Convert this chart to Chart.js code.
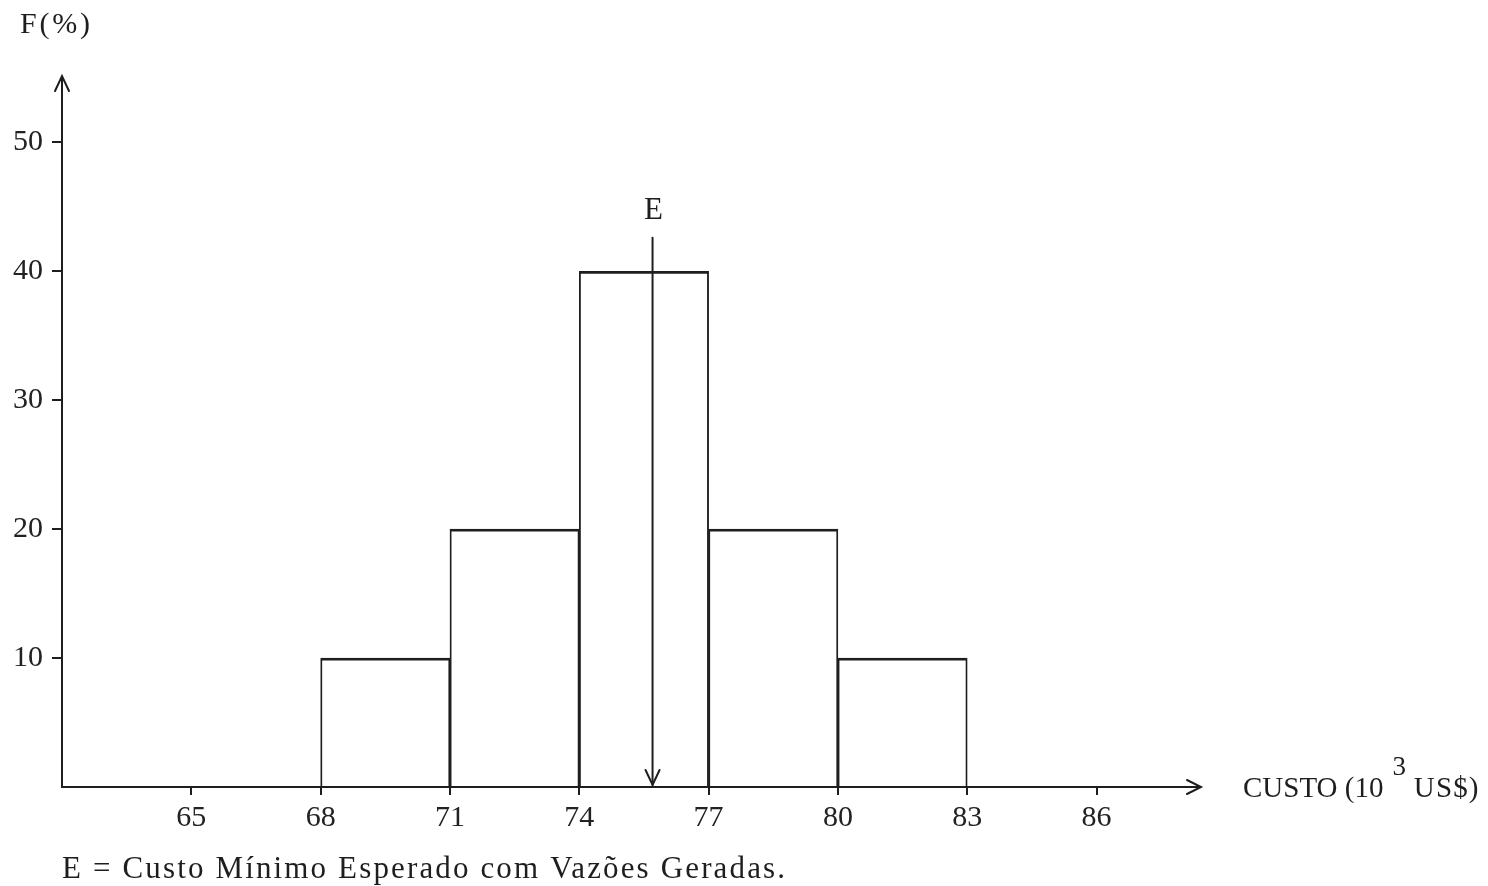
<!DOCTYPE html>
<html><head><meta charset="utf-8">
<script src="https://cdn.jsdelivr.net/npm/chart.js@4.4.0/dist/chart.umd.min.js"></script>
<style>html,body{margin:0;padding:0;background:#fff}#wrap{width:1488px;height:886px;position:relative}</style>
</head><body><div id="wrap"><canvas id="c"></canvas></div>
<script>
// ---- data ----
const binCenters = [69.5, 72.5, 75.5, 78.5, 81.5];   // classes 68-71, 71-74, 74-77, 77-80, 80-83
const frequencies = [10, 20, 40, 20, 10];             // F (%)
const xTickValues = [65, 68, 71, 74, 77, 80, 83, 86];
const yTickValues = [10, 20, 30, 40, 50];
const expectedCost = [75.7];       // E position on the cost axis
const expectedArrowTop = [42.6];   // top of E arrow, in F (%) units
const yTitle = 'F(%)';
const xTitleMain = 'CUSTO (10';
const xTitleSup = '3';
const xTitleEnd = ' US$)';
const captionText = 'E = Custo Mínimo Esperado com Vazões Geradas.';
const eLabel = 'E';

const INK = '#1e1e1e';
const SERIF = '"Liberation Serif", "DejaVu Serif", serif';

// draw text in serif font, optionally stretched with letter spacing to a target width
function serifText(ctx, text, x, y, size, targetWidth, align) {
  ctx.save();
  ctx.font = size + 'px ' + SERIF;
  ctx.fillStyle = INK;
  ctx.textBaseline = 'alphabetic';
  ctx.textAlign = 'left';
  const natural = ctx.measureText(text).width;
  let ls = 0;
  if (targetWidth && text.length > 1) ls = Math.max(0, (targetWidth - natural) / (text.length - 1));
  ctx.letterSpacing = ls + 'px';
  const w = natural + ls * (text.length - 1);
  let x0 = x;
  if (align === 'center') x0 = x - w / 2;
  if (align === 'right') x0 = x - w;
  ctx.fillText(text, x0, y);
  ctx.restore();
  return w;
}

const decor = {
  id: 'decor',
  afterDraw(chart) {
    const ctx = chart.ctx;
    const xs = chart.scales.x, ys = chart.scales.y;
    const a = chart.chartArea;
    ctx.save();
    ctx.strokeStyle = INK;
    ctx.lineWidth = 2;
    ctx.lineCap = 'round';
    // y axis arrowhead
    ctx.beginPath();
    ctx.moveTo(a.left - 7, a.top + 13);
    ctx.lineTo(a.left, a.top - 2);
    ctx.lineTo(a.left + 7, a.top + 13);
    ctx.stroke();
    // x axis arrowhead
    ctx.beginPath();
    ctx.moveTo(a.right - 13, a.bottom - 7);
    ctx.lineTo(a.right + 1, a.bottom);
    ctx.lineTo(a.right - 13, a.bottom + 7);
    ctx.stroke();
    // E arrow
    const ex = xs.getPixelForValue(expectedCost[0]);
    const eTop = ys.getPixelForValue(expectedArrowTop[0]);
    const eBot = ys.getPixelForValue(0);
    ctx.beginPath();
    ctx.moveTo(ex, eTop);
    ctx.lineTo(ex, eBot - 2);
    ctx.stroke();
    ctx.beginPath();
    ctx.moveTo(ex - 7, eBot - 17);
    ctx.lineTo(ex, eBot - 2);
    ctx.lineTo(ex + 7, eBot - 17);
    ctx.stroke();
    ctx.restore();
    // texts
    serifText(ctx, eLabel, ex + 1, 219, 31, 0, 'center');
    serifText(ctx, yTitle, 20, 33, 30, 70, 'left');
    let x = 1243;
    x += serifText(ctx, xTitleMain, x, 797, 29, 140, 'left');
    serifText(ctx, xTitleSup, x + 9, 775, 27, 0, 'left');
    x += 22;
    serifText(ctx, xTitleEnd, x, 797, 29, 73, 'left');
    serifText(ctx, captionText, 62, 878, 31, 723, 'left');
  }
};

new Chart(document.getElementById('c'), {
  type: 'bar',
  data: {
    datasets: [{
      data: binCenters.map((c, i) => ({ x: c, y: frequencies[i] })),
      backgroundColor: 'rgba(0,0,0,0)',
      borderColor: INK,
      borderWidth: { top: 2, left: 1.2, right: 1.2, bottom: 0 },
      borderSkipped: 'bottom',
      barPercentage: 1,
      categoryPercentage: 1
    }]
  },
  options: {
    responsive: true,
    maintainAspectRatio: false,
    animation: false,
    devicePixelRatio: 1,
    layout: { padding: { top: 78, right: 288, bottom: 0, left: 0 } },
    plugins: { legend: { display: false }, tooltip: { enabled: false } },
    scales: {
      x: {
        type: 'linear',
        min: 62, max: 88.4,
        offset: false,
        afterBuildTicks: s => { s.ticks = xTickValues.map(v => ({ value: v })); },
        afterFit: s => { s.height = 99; },
        border: { display: true, color: INK, width: 2 },
        grid: { offset: false, drawOnChartArea: false, drawTicks: true, tickLength: 8, color: INK, lineWidth: 2 },
        ticks: { color: '#222', font: { family: SERIF, size: 30 }, padding: 5, maxRotation: 0, autoSkip: false }
      },
      y: {
        type: 'linear',
        min: 0, max: 55,
        afterBuildTicks: s => { s.ticks = yTickValues.map(v => ({ value: v })); },
        afterFit: s => { s.width = 62; },
        border: { display: true, color: INK, width: 2 },
        grid: { drawOnChartArea: false, drawTicks: true, tickLength: 10, color: INK, lineWidth: 2 },
        ticks: { color: '#222', font: { family: SERIF, size: 30 }, padding: 9 }
      }
    }
  },
  plugins: [decor]
});
</script>
</body></html>
